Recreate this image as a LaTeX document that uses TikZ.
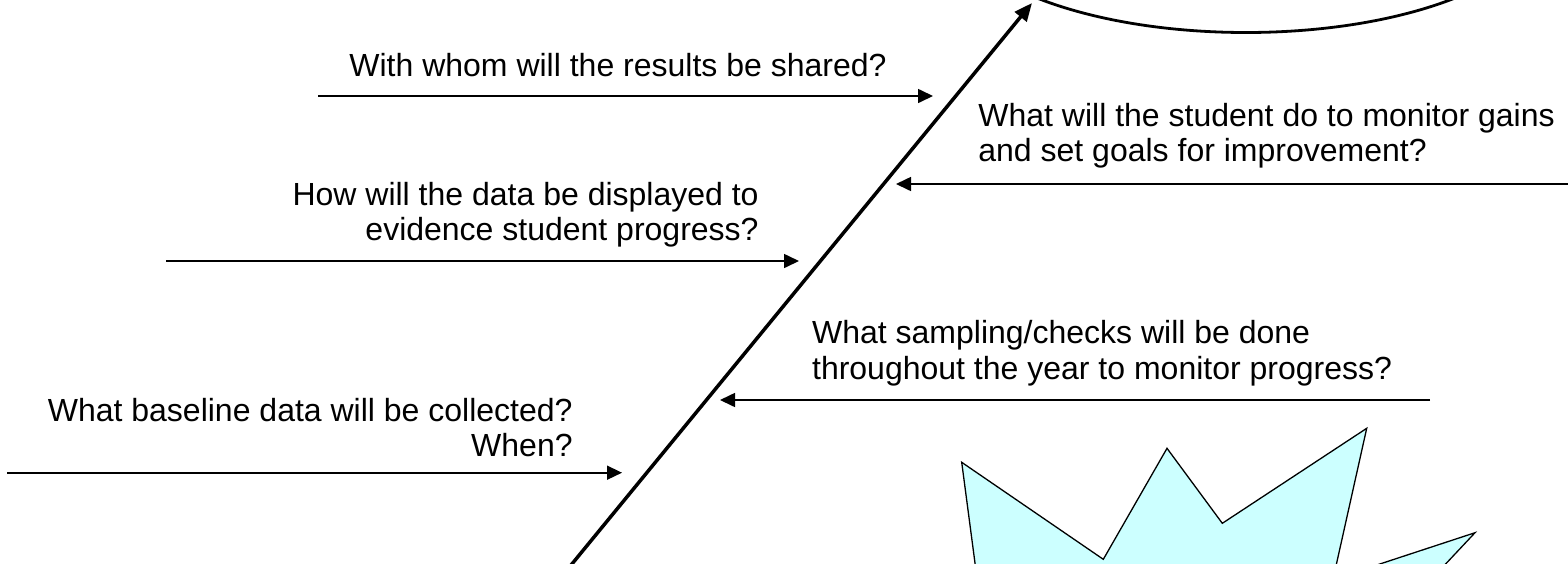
\documentclass[tikz,border=0pt]{standalone}
\usepackage{fontspec}
\setmainfont{Liberation Sans}
\usetikzlibrary{arrows.meta}
\definecolor{starfill}{HTML}{CCFFFF}
\begin{document}
\begin{tikzpicture}[x=0.5pt,y=-0.5pt,
  lbl/.style={inner sep=0pt,font=\fontsize{16}{19}\selectfont},
  lw/.style={lbl,anchor=base west},
  le/.style={lbl,anchor=base east},
  bone/.style={line width=0.8pt,-{Triangle[length=7.5pt,width=7pt]}},
  spine/.style={line width=1.75pt,-{Triangle[length=9pt,width=7.5pt]}}]
\useasboundingbox (0,0) rectangle (1568,563);
\clip (0,0) rectangle (1568,563);
% head ellipse (mostly off the page)
\draw[line width=1.4pt] (1246,-89.5) ellipse [x radius=300, y radius=122];
% burst shape (partly off the page)
\draw[line width=0.65pt,fill=starfill,line join=miter]
  (982.5,620) -- (961.7,462.3) -- (1103.3,559.3) -- (1167,448.3) -- (1222.3,523.3)
  -- (1366.7,428.3) -- (1333,579.4) -- (1475,532.7) -- (1393,620) -- cycle;
% spine
\coordinate (sb) at (567,570);
\coordinate (st) at (1032,3);
\draw[spine] (sb) -- (st);
% bone 1
\coordinate (a1s) at (318,96);
\coordinate (a1e) at (933,96);
\draw[bone] (a1s) -- (a1e);
\node[lw] (t1) at (349,76.7) {With whom will the results be shared?};
% bone 2
\coordinate (a2s) at (1568,184);
\coordinate (a2e) at (896,184);
\draw[bone] (a2s) -- (a2e);
\node[lw] (t2a) at (978,126.7) {What will the student do to monitor gains};
\node[lw] (t2b) at (978,161.7) {and set goals for improvement?};
% bone 3
\coordinate (a3s) at (166,261);
\coordinate (a3e) at (799,261);
\draw[bone] (a3s) -- (a3e);
\node[le] (t3a) at (759,205.5) {How will the data be displayed to};
\node[le] (t3b) at (759,240.5) {evidence student progress?};
% bone 4
\coordinate (a4s) at (1430,400);
\coordinate (a4e) at (720,400);
\draw[bone] (a4s) -- (a4e);
\node[lw] (t4a) at (811.7,343.3) {What sampling/checks will be done};
\node[lw] (t4b) at (811.7,379) {throughout the year to monitor progress?};
% bone 5
\coordinate (a5s) at (7,472.7);
\coordinate (a5e) at (622,472.7);
\draw[bone] (a5s) -- (a5e);
\node[le] (t5a) at (573,421.7) {What baseline data will be collected?};
\node[le] (t5b) at (573,456.5) {When?};
\end{tikzpicture}
\end{document}
